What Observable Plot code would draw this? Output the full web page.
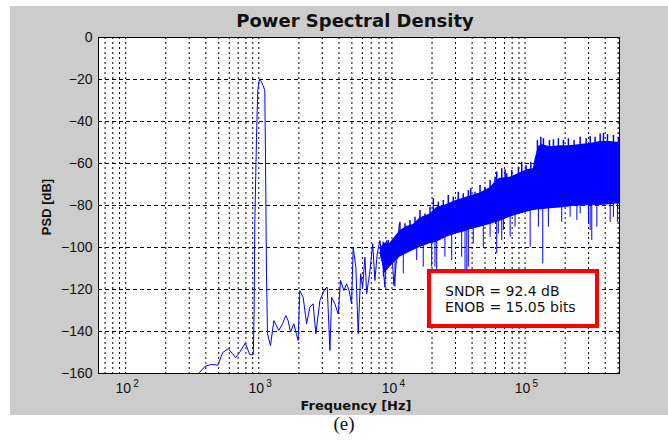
<!DOCTYPE html>
<html>
<head>
<meta charset="utf-8">
<script src="https://cdn.jsdelivr.net/npm/d3@7"></script>
<script src="https://cdn.jsdelivr.net/npm/@observablehq/plot@0.6"></script>
<style>
  html, body { margin: 0; padding: 0; background: #ffffff; }
  #wrap { position: relative; width: 668px; height: 441px; overflow: hidden; }
  #bg { position: absolute; left: 10px; top: 6px; width: 658px; height: 409px; background: #cccccc; }
  #chart { position: absolute; left: 0; top: 0; }
  .lbl { position: absolute; white-space: nowrap; color: #111; }
  #title { left: 355px; top: 10.5px; transform: translateX(-50%); font: bold 18px "DejaVu Sans", sans-serif; line-height: 20px; }
  #xlabel { left: 356px; top: 398px; transform: translateX(-50%); font: bold 13px "DejaVu Sans", sans-serif; line-height: 15px; }
  #ylabel { left: 46px; top: 206.5px; transform: translate(-50%, -50%) rotate(-90deg); font: bold 13px "Liberation Sans", Arial, sans-serif; line-height: 13px; }
  #box { position: absolute; left: 427px; top: 269px; width: 172px; height: 59px; box-sizing: border-box;
         border: 4px solid #ff0000; background: #ffffff; padding: 10px 0 0 14px;
         font: 14px "DejaVu Sans", sans-serif; line-height: 16px; color: #111; }
  #cap { position: absolute; left: 344px; top: 413px; transform: translateX(-50%); font: 19px "Liberation Serif", "Times New Roman", serif; line-height: 22px; color: #111; }
</style>
</head>
<body>
<div id="wrap">
  <div id="bg"></div>
  <div id="chart"></div>
  <div class="lbl" id="title">Power Spectral Density</div>
  <div class="lbl" id="xlabel">Frequency [Hz]</div>
  <div class="lbl" id="ylabel">PSD [dB]</div>
  <div id="box">SNDR = 92.4 dB<br>ENOB = 15.05 bits</div>
  <div id="cap">(e)</div>
</div>
<script>
// ---- Data ----
// Sparse part of the spectrum (tone and low/mid-frequency noise)
const lineFreq = [354, 360, 393, 436, 492, 536, 590, 671, 719, 791, 855, 909, 922, 933, 961, 982, 1010, 1035, 1077, 1109,
  1122, 1142, 1162, 1224, 1297, 1414, 1507, 1596, 1660, 1730, 1833, 1920, 1974, 2032, 2153, 2285, 2418, 2560, 2683, 2877,
  3135, 3265, 3420, 3524, 3727, 3947, 4113, 4355, 4563, 4772, 4977, 5117, 5358, 5580, 5818, 6023, 6270, 6458, 6840, 7167,
  7450, 7748, 8127, 8511, 8851, 9117, 9543, 9955, 10350, 10840, 11350];
const lineDb = [-160, -159.4, -156.7, -155.7, -156.0, -150, -148.2, -152.4, -149.9, -145.5, -151, -151.1, -130, -88.6, -47.5, -25.2, -20, -20.5, -22.9, -25.2,
  -54.6, -112.5, -141.1, -146.7, -134.8, -139.5, -136.3, -132.4, -134.8, -140.3, -136.3, -141.4, -144.3, -120.5, -123.7, -136.3, -128.4, -126.8, -141.1, -125.2,
  -119.7, -118.9, -149, -123.7, -126.8, -131.6, -115.7, -120.5, -117.3, -120.5, -126.8, -99.9, -109.4, -141.1, -112.5, -118.9, -104.6, -122, -111, -98.2,
  -115.7, -103, -96.7, -106.2, -118.9, -96.7, -107.8, -101.4, -118.1, -106.2, -88.7];

// Dense shaped-noise band: solid upper and lower edges
const bandFreq = [8200, 8851, 9660, 11480, 12900, 14460, 16240, 19320, 21680, 25780, 30650, 34360, 38560, 45880, 54580, 61240, 64920,
  77200, 91700, 103000, 115400, 118900, 125900, 133600, 154200, 183400, 206000, 218000, 259200, 308300, 366500, 435800, 512000];
const bandHi = [-100, -98, -98, -92, -90, -89, -86, -84, -81, -79.5, -77.5, -76.5, -75.5, -74, -71.5, -68, -67,
  -66.5, -64.5, -63, -62.5, -58, -52, -51, -52, -51.5, -51.5, -51.5, -51, -50.5, -49.5, -49.5, -50];
const bandLo = [-104, -112.4, -109.4, -104.6, -103, -101.4, -100, -98.2, -97.5, -95.1, -93.5, -92.7, -91.5, -90.3, -89, -88, -87.5,
  -85.6, -84, -83.2, -82.4, -82.4, -82, -82, -81.6, -81.2, -80.8, -80.6, -80.2, -80, -80, -79.6, -79.2];

// Upward spikes (tips of the noise above the solid band)
const upFreq = [8610, 9380, 10540, 11480, 12530, 13650, 14890, 16240, 17710, 19320, 20470, 22300, 24320, 26500, 28900, 31500,
  34360, 37500, 39060, 42100, 45880, 50000, 54580, 59450, 61240, 66800, 70800, 72800, 79400, 89100, 94400, 101800, 110500,
  123800, 131300, 137400, 152400, 163300, 178000, 194000, 211600, 233500, 259200, 287600, 308300, 336000, 366500, 388000,
  415900, 461000, 503000];
const upTip = [-97.5, -96.7, -95.9, -88, -88.7, -87.1, -85.6, -82.4, -84, -80.8, -76.8, -78.4, -77.6, -75.2, -76, -73.7,
  -74.4, -72.9, -72, -73.7, -70.5, -71.3, -68.1, -66.5, -64.1, -62.5, -63, -64.9, -63.3, -61.8, -59.4, -61, -59.4,
  -49, -47.5, -48.2, -49, -48.7, -48.2, -49, -48.2, -49, -47.5, -48.2, -47.1, -47.5, -45.9, -45.6,
  -46.2, -46.7, -47.5];
const upBase = [-102, -101, -100, -94, -93, -92, -91, -88, -88, -86, -84, -83, -82, -80, -80, -79,
  -78, -77, -77, -77, -76, -75, -73, -72, -70, -68, -68, -68, -68, -66, -65, -65, -64,
  -56, -53, -53, -54, -54, -54, -54, -54, -54, -53, -53, -53, -53, -52, -52,
  -52, -52, -52];

// Downward noise spikes below the band
const spikeFreq = [8610, 10540, 12170, 15350, 17180, 19890, 21040, 21680, 25000, 28100, 33400, 35400, 36500, 37500, 40800, 48560,
  54580, 61240, 62960, 66800, 68700, 77200, 84100, 109200, 125900, 135800, 149700, 188400, 218000, 244900, 259200, 299300,
  308300, 317000, 346000, 435800, 461000, 494000];
const spikeLow = [-114.1, -118.9, -112.5, -106.2, -109.4, -109.4, -109.3, -111, -104.6, -106.2, -104.6, -111, -111, -109.4, -98.2, -99.9,
  -95.1, -103, -93.5, -96.7, -91.9, -95.1, -90.3, -99.9, -90.3, -107.8, -90.3, -88, -85.6, -87.1, -84, -88.7,
  -91.9, -96.7, -90.3, -88, -85.6, -88];
const spikeTop = [-108, -105, -100, -97, -97, -95, -95, -94, -92, -90, -89, -88, -88, -88, -87, -86,
  -85, -84, -84, -83, -83, -82, -81, -80, -79, -79, -78, -78, -77, -77, -77, -77,
  -77, -77, -77, -76, -76, -76];

// Axes
const xDomain = [62.5, 512000];
const yDomain = [-160, 0];
const xTicks = [100, 1000, 10000, 100000];
const xTickBase = ["10", "10", "10", "10"];
const xTickExp = ["2", "3", "4", "5"];
const yTicks = [0, -20, -40, -60, -80, -100, -120, -140, -160];
const yGridLines = [-20, -40, -60, -80, -100, -120, -140];
const gridMantissas = [1, 2, 3, 4, 5, 6, 7, 8, 9];
const gridDecades = [10, 100, 1000, 10000, 100000];

// ---- Build tables ----
const line = lineFreq.map((f, i) => ({f, db: lineDb[i]}));
const band = bandFreq.map((f, i) => ({f, hi: bandHi[i], lo: bandLo[i]}));
const ups = upFreq.map((f, i) => ({f, tip: upTip[i], base: upBase[i]}));
const spikes = spikeFreq.map((f, i) => ({f, lo: spikeLow[i], top: spikeTop[i]}));
const xGridLines = gridDecades.flatMap(d => gridMantissas.map(m => m * d)).filter(v => v > xDomain[0] && v < xDomain[1]);
const xTickRows = xTicks.map((v, i) => ({v, base: xTickBase[i], exp: xTickExp[i]}));

const blue = "#0000ff";

const chart = Plot.plot({
  width: 668,
  height: 415,
  marginLeft: 98,
  marginRight: 49,
  marginTop: 37,
  marginBottom: 42,
  style: {background: "transparent", fontFamily: "'Liberation Sans', Arial, sans-serif", fontSize: "14px", color: "#111", overflow: "visible"},
  x: {type: "log", domain: xDomain, axis: null},
  y: {domain: yDomain, axis: null},
  marks: [
    Plot.frame({fill: "#ffffff", stroke: "none"}),
    Plot.gridY(yGridLines, {stroke: "#000", strokeOpacity: 1, strokeWidth: 1, strokeDasharray: "4,3"}),
    Plot.gridX(xGridLines, {stroke: "#000", strokeOpacity: 1, strokeWidth: 1, strokeDasharray: "2,3"}),
    Plot.areaY(band, {x: "f", y1: "lo", y2: "hi", fill: blue, curve: "linear"}),
    Plot.ruleX(ups, {x: "f", y1: "base", y2: "tip", stroke: blue, strokeWidth: 1.5}),
    Plot.ruleX(spikes, {x: "f", y1: "lo", y2: "top", stroke: blue, strokeWidth: 1}),
    Plot.line(line, {x: "f", y: "db", stroke: blue, strokeWidth: 1}),
    Plot.frame({stroke: "#000", strokeWidth: 1}),
    Plot.axisY(yTicks, {tickSize: 0, tickPadding: 6, fontSize: 14, label: null}),
    Plot.text(xTickRows, {x: "v", frameAnchor: "bottom", text: "base", dy: 15, dx: -2.5, fontSize: 14, lineAnchor: "middle"}),
    Plot.text(xTickRows, {x: "v", frameAnchor: "bottom", text: "exp", dy: 10, dx: 10.3, fontSize: 10, lineAnchor: "middle"})
  ]
});
document.getElementById("chart").appendChild(chart);
</script>
</body>
</html>
